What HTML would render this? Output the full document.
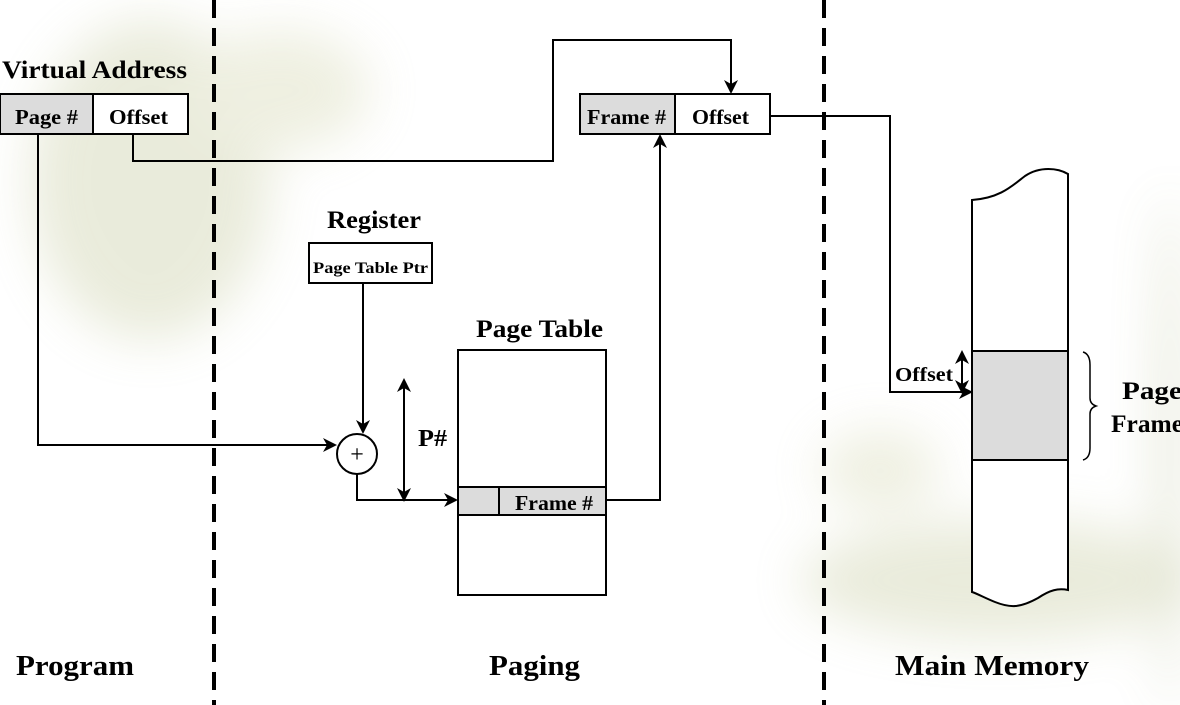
<!DOCTYPE html>
<html><head><style>
html,body{margin:0;padding:0;background:#fff;}
svg{display:block;}
text{font-family:"Liberation Serif",serif;font-weight:bold;fill:#000;}
</style></head><body>
<svg width="1180" height="705" viewBox="0 0 1180 705" xmlns="http://www.w3.org/2000/svg">
<defs>
<marker id="a" markerWidth="14" markerHeight="14" refX="12" refY="7" orient="auto" markerUnits="userSpaceOnUse">
<path d="M0,0 L14,7 L0,14 L4,7 Z" fill="#000"/></marker>
<marker id="as" markerWidth="14" markerHeight="14" refX="2" refY="7" orient="auto" markerUnits="userSpaceOnUse">
<path d="M14,0 L0,7 L14,14 L10,7 Z" fill="#000"/></marker>
<filter id="bl"><feGaussianBlur stdDeviation="25"/></filter>
</defs>
<g filter="url(#bl)" opacity="0.3">
<ellipse cx="150" cy="180" rx="120" ry="160" fill="#b9bf8a"/>
<ellipse cx="280" cy="90" rx="90" ry="60" fill="#c9cc9c"/>
<ellipse cx="1000" cy="580" rx="200" ry="60" fill="#b9bf8a"/>
<ellipse cx="880" cy="470" rx="60" ry="40" fill="#c9cc9c"/>
<ellipse cx="1170" cy="450" rx="10" ry="260" fill="#8f9a55"/>
</g>
<line x1="214" y1="0" x2="214" y2="705" stroke="#000" stroke-width="4" stroke-dasharray="18,10"/>
<line x1="824" y1="0" x2="824" y2="705" stroke="#000" stroke-width="4" stroke-dasharray="18,10"/>

<text x="2" y="78" font-size="25" textLength="185" lengthAdjust="spacingAndGlyphs">Virtual Address</text>
<rect x="0" y="94" width="93" height="40" fill="#dcdcdc" stroke="#000" stroke-width="2"/>
<rect x="93" y="94" width="95" height="40" fill="#fff" stroke="#000" stroke-width="2"/>
<text x="15" y="124" font-size="21" textLength="63" lengthAdjust="spacingAndGlyphs">Page #</text>
<text x="109" y="124" font-size="21" textLength="59" lengthAdjust="spacingAndGlyphs">Offset</text>

<g fill="none" stroke="#000" stroke-width="2">
<polyline points="38,134 38,445 335,445" marker-end="url(#a)"/>
<polyline points="133,134 133,161 553,161 553,40 731,40 731,92" marker-end="url(#a)"/>
<polyline points="363,283 363,432" marker-end="url(#a)"/>
<polyline points="357,474 357,500 456,500" marker-end="url(#a)"/>
<line x1="404" y1="380" x2="404" y2="500" marker-start="url(#as)" marker-end="url(#a)"/>
<polyline points="606,500 660,500 660,136" marker-end="url(#a)"/>
<polyline points="770,116 890,116 890,392 971,392" marker-end="url(#a)"/>
<line x1="962" y1="352" x2="962" y2="392" marker-start="url(#as)" marker-end="url(#a)"/>
</g>

<rect x="580" y="94" width="95" height="40" fill="#dcdcdc" stroke="#000" stroke-width="2"/>
<rect x="675" y="94" width="95" height="40" fill="#fff" stroke="#000" stroke-width="2"/>
<text x="587" y="124" font-size="21" textLength="79" lengthAdjust="spacingAndGlyphs">Frame #</text>
<text x="692" y="124" font-size="21" textLength="57" lengthAdjust="spacingAndGlyphs">Offset</text>

<text x="327" y="228" font-size="25" textLength="94" lengthAdjust="spacingAndGlyphs">Register</text>
<rect x="309" y="243" width="123" height="40" fill="#fff" stroke="#000" stroke-width="2"/>
<text x="313" y="273" font-size="16" textLength="115" lengthAdjust="spacingAndGlyphs">Page Table Ptr</text>

<circle cx="357" cy="454" r="20" fill="#fff" stroke="#000" stroke-width="2"/>
<text x="357" y="462" font-size="24" text-anchor="middle" style="font-weight:normal">+</text>

<text x="418" y="446" font-size="24" textLength="29" lengthAdjust="spacingAndGlyphs">P#</text>

<text x="476" y="337" font-size="25" textLength="127" lengthAdjust="spacingAndGlyphs">Page Table</text>
<rect x="458" y="350" width="148" height="245" fill="#fff" stroke="#000" stroke-width="2"/>
<rect x="458" y="487" width="148" height="28" fill="#dcdcdc" stroke="#000" stroke-width="2"/>
<line x1="499" y1="487" x2="499" y2="515" stroke="#000" stroke-width="2"/>
<text x="515" y="510" font-size="21" textLength="78" lengthAdjust="spacingAndGlyphs">Frame #</text>

<path d="M972,200 C1000,198 1012,186 1025,176 C1040,166 1058,168 1068,174 L1068,590 C1058,588 1050,590 1038,598 C1020,608 1010,608 995,602 C985,598 978,594 972,592 Z" fill="#fff" stroke="#000" stroke-width="2"/>
<rect x="972" y="351" width="96" height="109" fill="#dcdcdc" stroke="#000" stroke-width="2"/>
<path d="M1083,352 Q1090,354 1090,365 L1090,398 Q1090,404 1096,406 Q1090,408 1090,414 L1090,448 Q1090,458 1083,460" fill="none" stroke="#000" stroke-width="1.5"/>
<text x="1122" y="399" font-size="25" textLength="60" lengthAdjust="spacingAndGlyphs">Page</text>
<text x="1111" y="432" font-size="25" textLength="72" lengthAdjust="spacingAndGlyphs">Frame</text>
<text x="895" y="381" font-size="20" textLength="58" lengthAdjust="spacingAndGlyphs">Offset</text>

<text x="16" y="675" font-size="29" textLength="118" lengthAdjust="spacingAndGlyphs">Program</text>
<text x="489" y="675" font-size="29" textLength="91" lengthAdjust="spacingAndGlyphs">Paging</text>
<text x="895" y="675" font-size="29" textLength="194" lengthAdjust="spacingAndGlyphs">Main Memory</text>
</svg>
</body></html>
